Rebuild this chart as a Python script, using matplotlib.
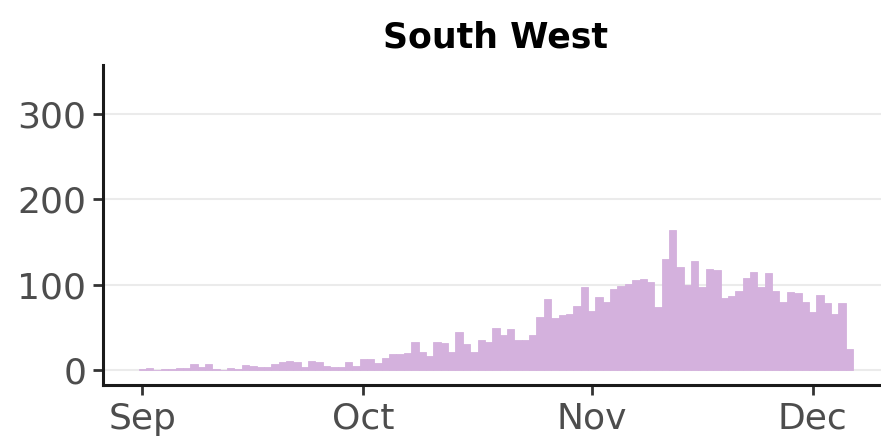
import matplotlib
matplotlib.use("Agg")
import matplotlib.pyplot as plt
import matplotlib.dates as mdates
import pandas as pd

# Daily counts for the South West region, 1 Sep - 6 Dec
start_date = "2020-09-01"
daily_cases = [
    2, 3, 1, 2, 2, 3, 3, 7, 4, 7,
    2, 1, 3, 2, 6, 5, 4, 4, 7, 10,
    11, 10, 4, 11, 10, 5, 4, 4, 10, 5,
    13, 13, 9, 15, 19, 19, 20, 33, 21, 17,
    33, 32, 21, 45, 31, 21, 36, 33, 50, 42,
    48, 36, 36, 41, 62, 84, 61, 65, 66, 75,
    98, 70, 86, 80, 95, 99, 101, 106, 107, 104,
    74, 130, 164, 121, 100, 128, 97, 119, 117, 85,
    87, 93, 108, 115, 98, 114, 93, 80, 92, 91,
    80, 68, 88, 79, 66, 79, 25,
]
region = "South West"
y_ticks = [0, 100, 200, 300]

dates = pd.date_range(start_date, periods=len(daily_cases), freq="D")

bar_color = "#d4b1dd"
text_color = "#4d4d4d"

fig = plt.figure(figsize=(8.81, 4.40), dpi=100)
ax = fig.add_axes([0.1169, 0.125, 0.892, 0.727])

# edge in the fill colour so neighbouring days join without hairline gaps
ax.bar(dates, daily_cases, width=1.0, color=bar_color,
       edgecolor=bar_color, linewidth=0.6, zorder=2)

# ggplot-style padding around the data range
x0 = dates[0] - pd.Timedelta(days=5.35)
x1 = dates[-1] + pd.Timedelta(days=5.35)
ax.set_xlim(x0, x1)
ax.set_ylim(-17, 357)

ax.set_yticks(y_ticks)
ax.yaxis.grid(True, color="#ebebeb", linewidth=1.5, zorder=0)
ax.xaxis.grid(False)
ax.set_axisbelow(True)

ax.xaxis.set_major_locator(mdates.MonthLocator())
ax.xaxis.set_major_formatter(mdates.DateFormatter("%b"))

for side in ["top", "right"]:
    ax.spines[side].set_visible(False)
for side in ["left", "bottom"]:
    ax.spines[side].set_linewidth(2.2)
    ax.spines[side].set_color("#1a1a1a")

ax.tick_params(axis="both", labelsize=26, colors="#333333", labelcolor=text_color,
               length=7, width=2)
ax.tick_params(axis="y", pad=5)
ax.tick_params(axis="x", pad=5)

ax.set_title(region, fontsize=25, fontweight="bold", color="#000000", pad=13)

fig.savefig("out.png", dpi=100)
